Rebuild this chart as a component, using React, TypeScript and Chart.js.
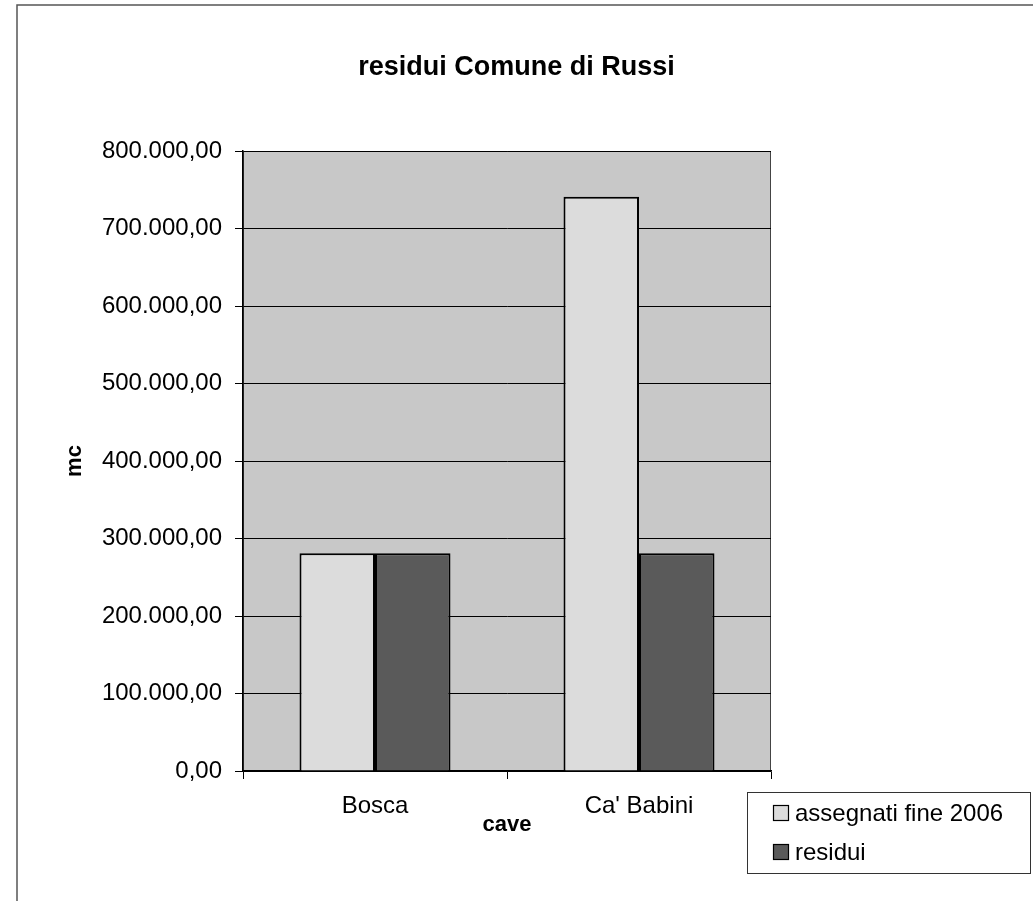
import React, { useEffect, useRef } from "react";
import { Chart, registerables } from "chart.js";

Chart.register(...registerables);

const categories = ["Bosca", "Ca' Babini"];
const assegnati = [281000, 741000];
const residui = [281000, 281000];
const seriesNames = ["assegnati fine 2006", "residui"];
const yMin = 0;
const yMax = 800000;
const yStep = 100000;

const FONT = "'Liberation Sans', Arial, sans-serif";

const fmt = (v: number) =>
  Math.round(v).toString().replace(/\B(?=(\d{3})+(?!\d))/g, ".") + ",00";

const decorPlugin = {
  id: "decor",
  beforeDraw(chart: any) {
    const { ctx, chartArea } = chart;
    ctx.save();
    ctx.fillStyle = "#ffffff";
    ctx.fillRect(0, 0, chart.width, chart.height);
    // outer frame
    ctx.strokeStyle = "#555555";
    ctx.lineWidth = 1.5;
    ctx.beginPath();
    ctx.moveTo(17, chart.height);
    ctx.lineTo(17, 5);
    ctx.lineTo(chart.width, 5);
    ctx.stroke();
    // plot area
    ctx.fillStyle = "#c8c8c8";
    ctx.fillRect(chartArea.left, chartArea.top, chartArea.right - chartArea.left, chartArea.bottom - chartArea.top);
    ctx.strokeStyle = "#444444";
    ctx.lineWidth = 1;
    ctx.strokeRect(chartArea.left + 0.5, chartArea.top + 0.5, chartArea.right - chartArea.left - 1, chartArea.bottom - chartArea.top - 1);
    ctx.restore();
  },
  afterDraw(chart: any) {
    const { ctx } = chart;
    ctx.save();
    // legend box
    const lx = 747, ly = 792, lw = 283, lh = 81;
    ctx.fillStyle = "#ffffff";
    ctx.fillRect(lx, ly, lw, lh);
    ctx.strokeStyle = "#333333";
    ctx.lineWidth = 1;
    ctx.strokeRect(lx + 0.5, ly + 0.5, lw, lh);
    const ys = [813, 852];
    chart.data.datasets.forEach((ds: any, i: number) => {
      const y = ys[i];
      ctx.fillStyle = ds.backgroundColor;
      ctx.fillRect(773, y - 8, 16, 16);
      ctx.strokeStyle = "#000";
      ctx.lineWidth = 1.2;
      ctx.strokeRect(773.5, y - 7.5, 15, 15);
      ctx.fillStyle = "#000";
      ctx.font = `24px ${FONT}`;
      ctx.textBaseline = "middle";
      ctx.textAlign = "left";
      ctx.fillText(ds.label, 795, y + 1);
    });
    ctx.restore();
  },
};

export default function App() {
  const ref = useRef<HTMLCanvasElement>(null);
  useEffect(() => {
    if (!ref.current) return;
    const chart = new Chart(ref.current, {
      type: "bar",
      data: {
        labels: categories,
        datasets: [
          {
            label: seriesNames[0],
            data: assegnati,
            backgroundColor: "#dcdcdc",
            borderColor: "#000",
            borderWidth: 2,
            categoryPercentage: 0.572,
            barPercentage: 1,
          },
          {
            label: seriesNames[1],
            data: residui,
            backgroundColor: "#5a5a5a",
            borderColor: "#000",
            borderWidth: 2,
            categoryPercentage: 0.572,
            barPercentage: 1,
          },
        ],
      },
      options: {
        responsive: false,
        animation: false,
        layout: { padding: { left: 0, right: 0, top: 0, bottom: 0 } },
        plugins: {
          legend: { display: false },
          tooltip: { enabled: false },
          title: {
            display: true,
            text: "residui Comune di Russi",
            color: "#000",
            font: { family: FONT, size: 27, weight: "bold" },
            padding: { top: 51, bottom: 67.6 },
          },
        },
        scales: {
          y: {
            min: yMin,
            max: yMax,
            afterFit: (s: any) => {
              s.width = 243;
            },
            ticks: {
              stepSize: yStep,
              color: "#000",
              font: { family: FONT, size: 24 },
              padding: 13,
              callback: (v: any) => fmt(Number(v)),
            },
            grid: { color: "#000", lineWidth: 1, tickLength: 8, drawTicks: true },
            border: { display: true, color: "#000", width: 1.5 },
            title: {
              display: true,
              text: "mc",
              color: "#000",
              font: { family: FONT, size: 22, weight: "bold" },
              padding: { top: 62, bottom: 0 },
            },
          },
          yRight: {
            position: "right",
            min: yMin,
            max: yMax,
            display: true,
            afterFit: (s: any) => {
              s.width = 262;
            },
            ticks: { display: false },
            grid: { display: false, drawTicks: false },
            border: { display: false },
          },
          x: {
            afterFit: (s: any) => {
              s.height = 130;
            },
            ticks: {
              color: "#000",
              font: { family: FONT, size: 24 },
              padding: 13,
            },
            grid: { drawOnChartArea: false, drawTicks: true, tickLength: 8, color: "#000", offset: true },
            border: { display: true, color: "#000", width: 1.5 },
            title: {
              display: true,
              text: "cave",
              color: "#000",
              font: { family: FONT, size: 22, weight: "bold" },
              padding: { top: 0, bottom: 63 },
            },
          },
        },
      },
      plugins: [decorPlugin],
    });
    return () => chart.destroy();
  }, []);
  return (
    <div style={{ position: "absolute", left: 0, top: 0, width: 1033, height: 901 }}>
      <canvas ref={ref} width={1033} height={901} />
    </div>
  );
}
